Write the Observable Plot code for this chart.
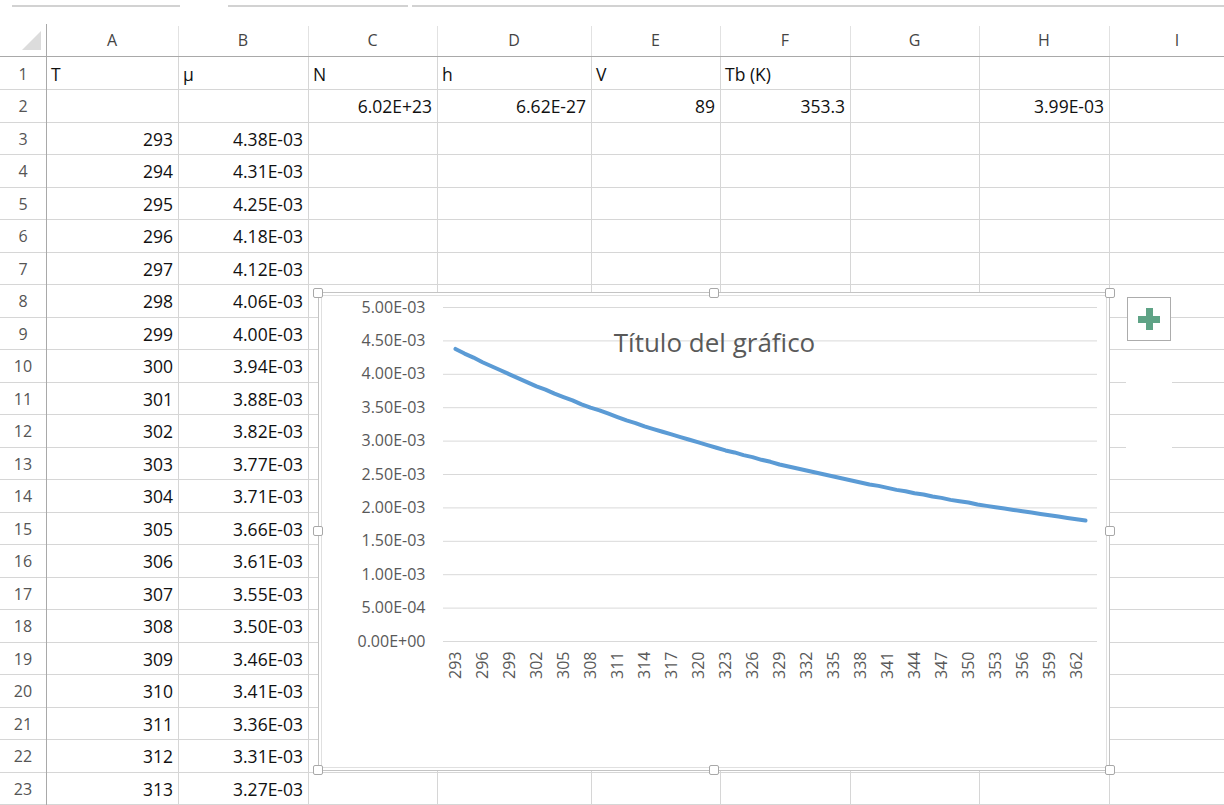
<!DOCTYPE html>
<html><head><meta charset="utf-8">
<script src="https://cdn.jsdelivr.net/npm/d3@7"></script>
<script src="https://cdn.jsdelivr.net/npm/@observablehq/plot@0.6"></script>
<style>
body{margin:0;background:#fff;}
#sheet{position:relative;width:1224px;height:805px;overflow:hidden;font-family:"Open Sans",Lato,sans-serif;background:#fff;}
.abs{position:absolute;white-space:nowrap;}
</style></head><body><div id="sheet"></div>
<script>
// ---- data ----
const temps = [293,294,295,296,297,298,299,300,301,302,303,304,305,306,307,308,309,310,311,312,313,314,315,316,317,318,319,320,321,322,323,324,325,326,327,328,329,330,331,332,333,334,335,336,337,338,339,340,341,342,343,344,345,346,347,348,349,350,351,352,353,354,355,356,357,358,359,360,361,362,363];
const mu = [4.38e-3,4.31e-3,4.25e-3,4.18e-3,4.12e-3,4.06e-3,4.00e-3,3.94e-3,3.88e-3,3.82e-3,3.77e-3,3.71e-3,3.66e-3,3.61e-3,3.55e-3,3.50e-3,3.46e-3,3.41e-3,3.36e-3,3.31e-3,3.27e-3,3.22e-3,3.18e-3,3.14e-3,3.10e-3,3.06e-3,3.02e-3,2.98e-3,2.94e-3,2.90e-3,2.86e-3,2.83e-3,2.79e-3,2.76e-3,2.72e-3,2.69e-3,2.65e-3,2.62e-3,2.59e-3,2.56e-3,2.53e-3,2.50e-3,2.47e-3,2.44e-3,2.41e-3,2.38e-3,2.35e-3,2.33e-3,2.30e-3,2.27e-3,2.25e-3,2.22e-3,2.20e-3,2.17e-3,2.15e-3,2.12e-3,2.10e-3,2.08e-3,2.05e-3,2.03e-3,2.01e-3,1.99e-3,1.97e-3,1.95e-3,1.93e-3,1.91e-3,1.89e-3,1.87e-3,1.85e-3,1.83e-3,1.81e-3];
const xTickLabels = [293,296,299,302,305,308,311,314,317,320,323,326,329,332,335,338,341,344,347,350,353,356,359,362];
const yTicks = [0,0.0005,0.001,0.0015,0.002,0.0025,0.003,0.0035,0.004,0.0045,0.005];
const colLetters = ["A","B","C","D","E","F","G","H","I"];
const row1Labels = ["T","μ","N","h","V","Tb (K)"];
const row2Values = [null,null,6.02e23,6.62e-27,89,353.3,null,3.99e-3];
const row2Sci = [false,false,true,true,false,false,false,true];
const tableRows = 21;
const chartTitle = "Título del gráfico";

// ---- helpers ----
function excelSci(v){
  const [m,e] = v.toExponential(2).split("e");
  const s = e[0] === "-" ? "-" : "+";
  const d = e.replace(/^[+-]/,"").padStart(2,"0");
  return m + "E" + s + d;
}
const sheet = document.getElementById("sheet");
function el(style, text){
  const d = document.createElement("div");
  d.className = "abs";
  for (const k in style) d.style[k] = typeof style[k] === "number" ? style[k] + "px" : style[k];
  if (text != null) d.textContent = text;
  sheet.appendChild(d);
  return d;
}
const colEdges = [46,178,308,437,591,720,850,979,1109,1245];
const rowH = 32.5;
const rowTop = n => 56.7 + (n - 1) * rowH;

// top bar lines
el({left:12,top:5,width:168,height:2,background:"#d2d2d2"});
el({left:228,top:5,width:180,height:2,background:"#d2d2d2"});
el({left:412,top:5,width:812,height:2,background:"#d2d2d2"});

// horizontal row lines
for (let n = 2; n <= 24; n++) el({left:0,top:Math.round(rowTop(n)),width:1224,height:1,background:"#d6d6d6"});
// vertical column lines
for (let i = 1; i < colEdges.length - 1; i++) {
  el({left:colEdges[i],top:26,width:1,height:30,background:"#e2e2e2"});
  el({left:colEdges[i],top:57,width:1,height:760,background:"#d6d6d6"});
}
el({left:46,top:24,width:1,height:790,background:"#a9a9a9"});
el({left:0,top:56,width:1224,height:1,background:"#a9a9a9"});
// corner triangle
el({left:22,top:31,width:0,height:0,borderLeft:"19px solid transparent",borderBottom:"19px solid #dcdcdc"});

// column letters
colLetters.forEach((L,i)=>el({left:colEdges[i],width:colEdges[i+1]-colEdges[i],top:24,height:32,lineHeight:"33px",textAlign:"center",fontSize:"16px",color:"#444"},L));
// row numbers
for (let n = 1; n <= 23; n++) el({left:0,width:46,top:rowTop(n),height:rowH,lineHeight:"35px",textAlign:"center",fontSize:"16px",color:"#555"},String(n));

function cell(col, row, text, align, weight){
  const x0 = colEdges[col], x1 = colEdges[col+1];
  el({left:x0+5,width:x1-x0-10,top:rowTop(row),height:rowH,lineHeight:"35px",textAlign:align,fontSize:"17.5px",color:"#111",fontWeight:weight||"400"},text);
}
row1Labels.forEach((t,i)=>cell(i,1,t,"left","500"));
row2Values.forEach((v,i)=>{ if (v!=null) cell(i,2,row2Sci[i]?excelSci(v):String(v),"right"); });
for (let i = 0; i < tableRows; i++) {
  cell(0,3+i,String(temps[i]),"right");
  cell(1,3+i,excelSci(mu[i]),"right");
}

// gaps near chart button
el({left:1126,top:381,width:46,height:3,background:"#fff"});
el({left:1126,top:446,width:46,height:3,background:"#fff"});

// chart box
el({left:318,top:292,width:792,height:479,background:"#fff",border:"1px solid #c4c4c4",boxSizing:"border-box",boxShadow:"inset 0 0 0 2px #fff, inset 0 0 0 3px #e0e0e0"});

// ---- chart ----
const data = temps.map((T,i)=>({T, mu: mu[i]}));
const chart = Plot.plot({
  width: 792, height: 477,
  marginLeft: 125, marginRight: 13, marginTop: 14, marginBottom: 129,
  style: {fontFamily: "'Open Sans', Lato, sans-serif", fontSize: "16px", color: "#595959", background: "transparent", overflow: "visible"},
  x: {type: "point", domain: temps, padding: 0.5, label: null, ticks: xTickLabels, tickSize: 0, tickPadding: 10, tickRotate: -90},
  y: {domain: [0, 0.005], ticks: yTicks, tickFormat: excelSci, label: null, tickSize: 0, tickPadding: 18},
  marks: [
    Plot.ruleY(yTicks, {stroke: "#d9d9d9", strokeWidth: 1}),
    Plot.line(data, {x: "T", y: "mu", stroke: "#5b9bd5", strokeWidth: 4, strokeLinejoin: "round", strokeLinecap: "round"}),
    Plot.text([chartTitle], {frameAnchor: "top", dy: 26, dx: -56, fontSize: 26, fill: "#595959"})
  ]
});
chart.style.position = "absolute";
chart.style.left = "318px";
chart.style.top = "293px";
sheet.appendChild(chart);

// handles
[[318,293],[714,293],[1110,293],[318,531],[1110,531],[318,770],[714,770],[1110,770]].forEach(([x,y])=>
  el({left:x-5,top:y-5,width:10,height:10,border:"1px solid #a8a8a8",borderRadius:"2px",background:"#fff",boxSizing:"border-box"}));

// chart elements button
el({left:1127,top:297,width:44,height:44,border:"1px solid #acacac",background:"#fff",boxSizing:"border-box"});
el({left:1138,top:315.5,width:22,height:7,background:"#5fa386"});
el({left:1145.5,top:308,width:7,height:22,background:"#5fa386"});
</script></body></html>
